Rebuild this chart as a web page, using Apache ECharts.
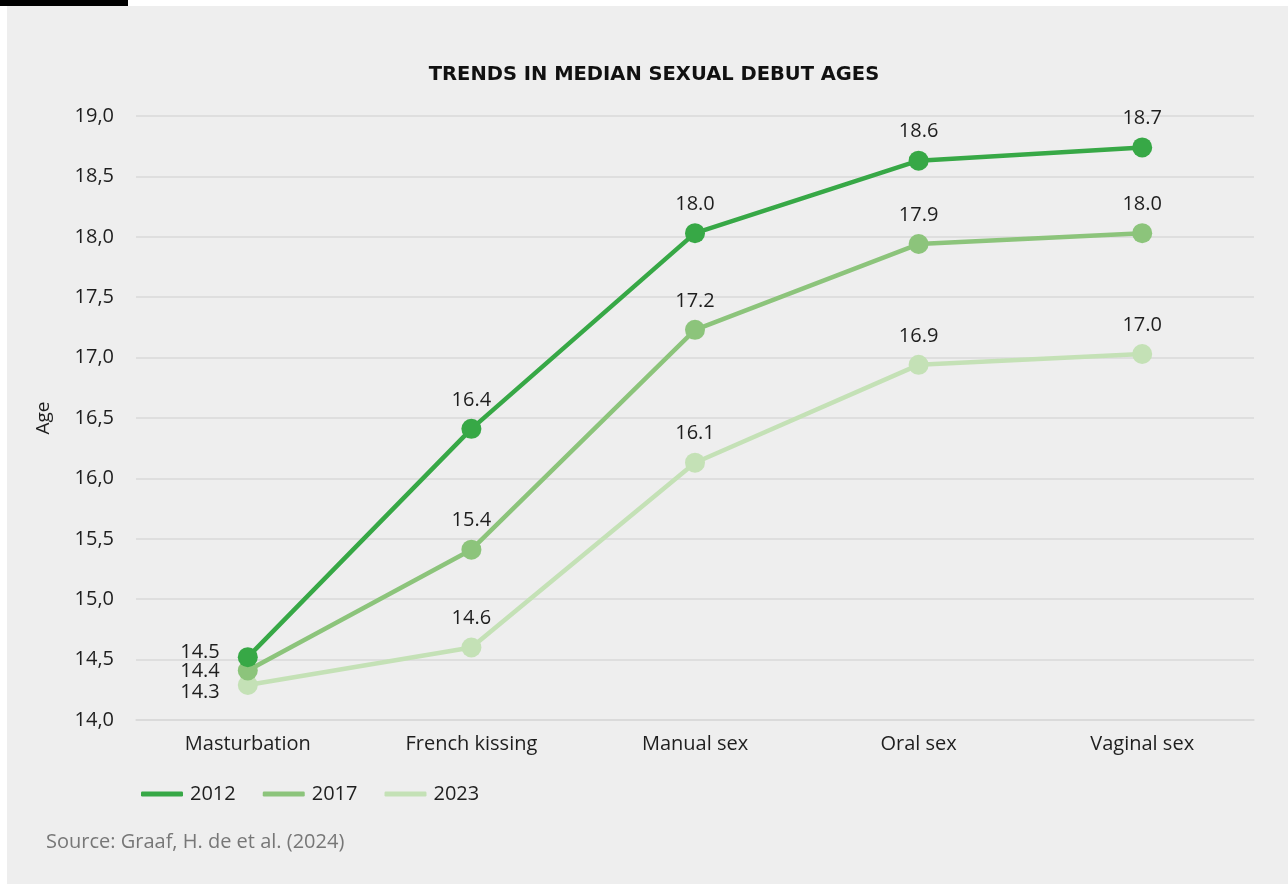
<!DOCTYPE html>
<html>
<head>
<meta charset="utf-8">
<script src="https://cdn.jsdelivr.net/npm/echarts@6/dist/echarts.min.js"></script>
<style>
  html, body { margin: 0; padding: 0; background: #ffffff; }
  #wrap { position: relative; width: 1288px; height: 884px; overflow: hidden; }
  #panel { position: absolute; left: 7px; top: 6px; right: 0; bottom: 0; background: #eeeeee; }
  #bar { position: absolute; left: 0; top: 0; width: 128px; height: 6px; background: #000000; }
  #chart { position: absolute; left: 0; top: 0; width: 1288px; height: 884px; }
</style>
</head>
<body>
<div id="wrap">
  <div id="panel"></div>
  <div id="bar"></div>
  <div id="chart"></div>
</div>
<script>
// Median debut ages per activity, by survey year
const categories = ['Masturbation', 'French kissing', 'Manual sex', 'Oral sex', 'Vaginal sex'];
const years = ['2012', '2017', '2023'];
const values2012 = [14.52, 16.41, 18.03, 18.63, 18.74];
const values2017 = [14.41, 15.41, 17.23, 17.94, 18.03];
const values2023 = [14.29, 14.60, 16.13, 16.94, 17.03];
const colors = ['#37a846', '#8cc47b', '#c4e1b6'];

const FONT = '"Open Sans", "Noto Sans", sans-serif';
const TITLE_FONT = '"DejaVu Sans", "Open Sans", sans-serif';
const FS = 20;

// First category labels sit to the left of the stacked points
const firstLabelOffsets = [[0, -5], [0, 1], [0, 7]];

function buildSeries(name, values, idx) {
  return {
    name: name,
    type: 'line',
    data: values.map(function (v, i) {
      const item = { value: v };
      if (i === 0) {
        item.label = { position: 'left', distance: 18, offset: firstLabelOffsets[idx] };
      }
      return item;
    }),
    symbol: 'circle',
    symbolSize: 20,
    lineStyle: { color: colors[idx], width: 4.5 },
    itemStyle: { color: colors[idx] },
    z: 10 - idx,
    label: {
      show: true,
      position: 'top',
      distance: 9,
      color: '#1e1e1e',
      fontSize: FS,
      fontFamily: FONT,
      formatter: function (p) { return p.value.toFixed(1); }
    },
    emphasis: { disabled: true }
  };
}

const chart = echarts.init(document.getElementById('chart'), null, { renderer: 'canvas' });
chart.setOption({
  animation: false,
  backgroundColor: 'transparent',
  color: colors,
  title: {
    text: 'TRENDS IN MEDIAN SEXUAL DEBUT AGES',
    left: 649,
    textAlign: 'center',
    top: 60,
    textStyle: { fontFamily: TITLE_FONT, fontSize: 19.5, fontWeight: 'bold', color: '#111111' }
  },
  grid: { left: 136, right: 34, top: 116, bottom: 164, containLabel: false },
  xAxis: {
    type: 'category',
    data: categories,
    boundaryGap: true,
    axisLine: { show: true, lineStyle: { color: '#d9d9d9', width: 1.5 } },
    axisTick: { show: false },
    axisLabel: { color: '#1e1e1e', fontSize: FS, fontFamily: FONT, margin: 14 }
  },
  yAxis: {
    type: 'value',
    name: 'Age',
    nameLocation: 'middle',
    nameGap: 83,
    nameRotate: 90,
    nameTextStyle: { color: '#1e1e1e', fontSize: 19, fontFamily: FONT },
    min: 14,
    max: 19,
    interval: 0.5,
    axisLine: { show: false },
    axisTick: { show: false },
    splitLine: { lineStyle: { color: '#d9d9d9', width: 1.5 } },
    axisLabel: {
      color: '#1e1e1e', fontSize: FS, fontFamily: FONT, margin: 22,
      formatter: function (v) { return v.toFixed(1).replace('.', ','); }
    }
  },
  legend: {
    data: years,
    left: 136,
    top: 779,
    icon: 'roundRect',
    itemWidth: 42,
    itemHeight: 5,
    itemGap: 27,
    textStyle: { color: '#1e1e1e', fontSize: FS, fontFamily: FONT, padding: [0, 0, 0, 2] }
  },
  graphic: [{
    type: 'text',
    left: 46,
    top: 832,
    style: { text: 'Source: Graaf, H. de et al. (2024)', fill: '#777777', fontSize: FS, fontFamily: FONT }
  }],
  series: [
    buildSeries(years[0], values2012, 0),
    buildSeries(years[1], values2017, 1),
    buildSeries(years[2], values2023, 2)
  ]
});
</script>
</body>
</html>
